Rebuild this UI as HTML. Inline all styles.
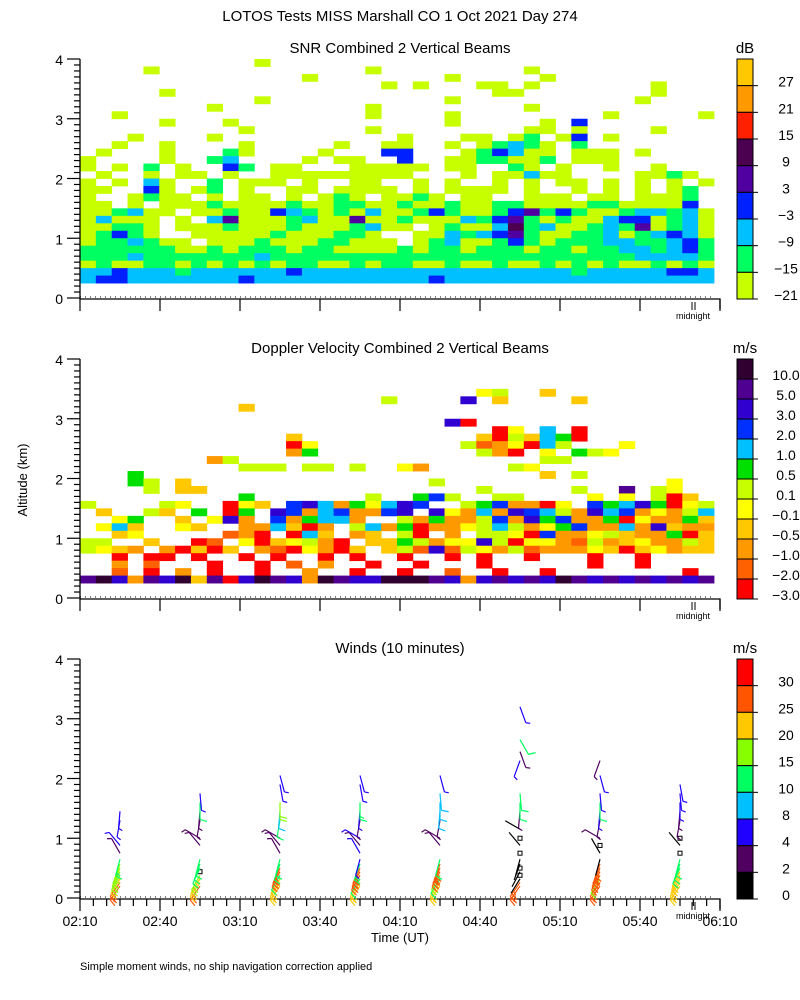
<!DOCTYPE html>
<html><head><meta charset="utf-8"><style>
body{margin:0;background:#fff}
svg{display:block;font-family:"Liberation Sans",sans-serif}
</style></head><body>
<svg id="svg" width="800" height="1000" viewBox="0 0 800 1000" xmlns="http://www.w3.org/2000/svg">
<rect width="800" height="1000" fill="#fff"/>
<text x="400" y="21" text-anchor="middle" font-size="15">LOTOS Tests MISS Marshall CO   1 Oct 2021 Day 274</text>
<text x="400" y="53" text-anchor="middle" font-size="15">SNR Combined 2 Vertical Beams</text>
<text x="745" y="53" text-anchor="middle" font-size="15">dB</text>
<text x="400" y="353" text-anchor="middle" font-size="15">Doppler Velocity Combined 2 Vertical Beams</text>
<text x="745" y="353" text-anchor="middle" font-size="15">m/s</text>
<text x="400" y="653" text-anchor="middle" font-size="15">Winds (10 minutes)</text>
<text x="745" y="653" text-anchor="middle" font-size="15">m/s</text>
<text x="0" y="0" transform="translate(27,480) rotate(-90)" text-anchor="middle" font-size="13">Altitude (km)</text>
<text x="400" y="942" text-anchor="middle" font-size="13">Time (UT)</text>
<text x="80" y="970" font-size="11">Simple moment winds, no ship navigation correction applied</text>
<g id="g1"></g>
<g id="g2"></g>
<g id="g3"></g>
</svg>
<script>
const NS="http://www.w3.org/2000/svg";
// ---- data ----
const snrColors=["#FFC800","#FF9900","#FF2000","#4B0050","#5000A0","#0020FF","#00C0FF","#00FF60","#C8FF00"];
const snrTicks=["27","21","15","9","3","\u22123","\u22129","\u221215","\u221221"];
const snrCodes={d:"#4B0050",p:"#5000A0",b:"#0020FF",c:"#00C0FF",g:"#00FF60",y:"#C8FF00"};
const snrRows=[
"...........y............................",
"....y.............y.........y............",
"..............y........y.....y..........",
"...................y.y...yy.y.......y...",
".....y....................yy........y...",
"...........y...........y...........y....",
"........y.........y.........y...........",
"..y...............y....y.........y.....y",
".....y...y.............y.....y.b........",
"..........y.......y.........yy.y....y...",
"...y....y...........y...yy.yg.yb.y......",
"..y..y....y.....y..yy..y.ygcgy.g........",
".y...y...gy....y...bb...ygbcyy.yyy.y....",
"y....y..gc....y.yy..b..yyggyyg.yyy......",
"y.y.g.y..bg.yy...yyyyy.yy..gy.y..y..y...",
".y..y.yy.y..yyyyyyyyy...y.yycyy....yygy.",
"y.y.cy..g.yyy.y..yy..y.y..y.y.yy.y.y.y.y",
"yy..by.yg.y..yy.yyyy.y.yyyy.y..y.y.y.yg.",
"y..ygyy.y.yy.y.ygy.yygy.yy..yyy.yy.yyyg.",
"yy.y.yyygyyyygyyggyygyygyyggyyyyggyyyyb.",
"yygcyy.yygyybcgygycyygbgyygbpgbgyygccgcy",
"ycyyy.y.cpyyygcyypyygyyycgbpgygyycbbygcy",
"yyggy.yyygyyygyyygcyy.ygyycdgcyygcgpygcy",
"ygbgy..yyyyygyyyggy..yycgcbpgyyggcygcbcy",
"yggcgyy.yyygyyyggyyy.ygcyygbgygggccggcbg",
"ggggggyygygggyggyyyygyggygggyggyggccgcbg",
"gggcgggggggcgggggggggggggggggggggggccccg",
"ygyyggygygygyggyygyggyygyygyygygygyygygy",
"ccbcccgccccccbcccccccccccccccccgcccccbbc",
"cbbcccccccbcccccccccccbccccccccccccccccc"];
const dopColors=["#300030","#500090","#3000D0","#0030FF","#00C0FF","#00E000","#C8FF00","#FFFF00","#FFC800","#FF9900","#FF6000","#FF0000"];
const dopTicks=["10.0","5.0","3.0","2.0","1.0","0.5","0.1","\u22120.1","\u22120.5","\u22121.0","\u22122.0","\u22123.0"];
const dopCodes={k:"#300030",p:"#500090",v:"#3000D0",b:"#0030FF",c:"#00C0FF",g:"#00E000",l:"#C8FF00",y:"#FFFF00",o:"#FFC800",O:"#FF9900",r:"#FF6000",R:"#FF0000"};
const dopRows=[
"","","","",
".........................yl..o",
"...................l....v.o....o",
"..........o",
"",
".......................vR",
"..........................Ry.c.R",
".............o...........oRlocgR",
".............Ry.........lrOyRcl...y",
".............Og..........lOR.y.gly",
"........Ol...................ll",
"..........lll.ll.l..yO.....ly",
"...g.........................o.l",
"...gl.o...............l..............y",
"....l.oo.................l.....l..p.ly",
"..........g.......l..gbl..ll....y.y.lRo",
"l....ly..Ryo.bvcOgycvb..lgbOORy.bgcvgRyl",
".o..lo.g.Rg.vbOcbOObv.vyOcOvbclOvcbOyOlc",
"..yg..o.yvO.bOgccO..lOgOOlbOvgbOOgRyOOgo",
".yco..yo..OOcoRO.lcOgROOylclOygbOOcOvoOO",
"..oy.....rOR.Rco.Oo.lR.O.llyRbOOyloOOgRo",
"ll..o..Rr.yRoylOR.ooglOyyvlRyyOrlOoyOOlo",
"lyoO.ORoRo.OrRyORo.olrvrlyOlrOOOyoRoyOoo",
"..R.RR.R..R.R..R.R..R..R.R..R...R..R....",
"..O.r...R..R.r.O..R..R...R......R..R....",
"..r.R.O.R..R..O..R..R..r..R..R........R.",
"pkvOpvkopRvkpvOkpvvkkkpvOvpvpvkpvpvpvpvp"];
const windColors=["#FF0000","#FF5500","#FFC800","#88FF00","#00FF60","#00C0FF","#2000FF","#500060","#000000"];
const windTicks=["30","25","20","15","10","8","4","2","0"];
const windBounds=[0,2,4,8,10,15,20,25,30];
const timeLabels=["02:10","02:40","03:10","03:40","04:10","04:40","05:10","05:40","06:10"];
const windTimes=[15,45,75,105,135,165,195,225]; // minutes after 02:10
const windHeights=[0.2,0.26,0.32,0.38,0.44,0.5,0.57,0.65,0.75,0.88,1.0,1.15,1.3,1.45,1.6,1.75,1.9,2.05,2.3,2.45,2.65,3.2];
const windDir=[215,215,212,210,208,205,200,195,330,320,300,300,190,185,180,175,170,165,200,160,150,160];
const windSpeed=[
[26,26,22,19,18,17,16,14,3,4,null,null,5,5,null,null,null,null,null,null,null,null],
[26,22,20,19,0.5,12,12,11,null,3,3,null,3,3,12,6,null,null,null,null,null,null],
[21,20,20,12,26,26,12,12,3,3,3,null,12,9,18,null,5,5,null,null,null,null],
[21,20,12,26,26,26,13,5,5,3,5,null,3,5,14,null,5,5,null,null,null,null],
[21,20,12,18,26,26,26,12,null,3,3,null,3,8,8,8,null,5,null,null,null,null],
[26,26,1.5,0.5,1.5,0.5,1.5,1.5,0.5,1.5,0.5,1.5,null,3,12,12,null,null,5,3,12,5],
[26,26,17,26,26,26,26,1.5,1.5,0.5,3,null,3,5,12,5,null,5,3,null,null,null],
[20,20,20,20,20,12,12,12,0.5,1.5,0.5,null,3,3,5,5,5,null,null,null,null,null]];
// ---- helpers ----
const X0=80,X1=720,DATAX1=714;
function xT(min){return X0+min*(X1-X0)/240;}
function mk(tag,attrs,parent){const e=document.createElementNS(NS,tag);for(const k in attrs)e.setAttribute(k,attrs[k]);parent.appendChild(e);return e;}
function axes(g,base,minorBottom){
  const yA=a=>base-a*59.75;
  const ax=mk('path',{d:`M${X0} ${yA(4)}V${base+1}H${X1}V${base+11}`,stroke:'#000','stroke-width':1.3,fill:'none'},g);
  
  
  for(let i=0;i<=40;i++){const y=yA(i/10);const L=i%10==0?13:6;
    mk('line',{x1:X0-L,x2:X0,y1:y,y2:y,stroke:'#000','stroke-width':1.2},g);}
  for(let k=0;k<=4;k++){const t=mk('text',{x:X0-17,y:yA(k)+6,'text-anchor':'end','font-size':14},g);t.textContent=k;
    
    }
  for(let m=0;m<=240;m+=(minorBottom?5:30)){const x=xT(m);const L=m%30==0?12:7;
    mk('line',{x1:x,x2:x,y1:base+1,y2:base+1+L,stroke:'#000','stroke-width':1.2},g);}
  const dl=mk('line',{x1:X0,x2:DATAX1,y1:base-1,y2:base-1,stroke:'#000','stroke-width':1,'stroke-dasharray':'1 4'},g);
  
  
  mk('path',{d:`M692 ${base+4}v8M695 ${base+4}v8`,stroke:'#000','stroke-width':1},g);
  const mt=mk('text',{x:693,y:base+21,'text-anchor':'middle','font-size':9},g);mt.textContent='midnight';
  
  
}
function colorbar(g,top,colors,ticks){
  const h=240/colors.length;
  colors.forEach((c,i)=>{const r=mk('rect',{x:737,y:top+i*h,width:16,height:h,fill:c,stroke:'#000','stroke-width':1},g);
    
    });
  ticks.forEach((t,i)=>{const y=top+(i+1)*h;
    mk('line',{x1:753,x2:758,y1:y,y2:y,stroke:'#000'},g);
    const tx=mk('text',{x:786,y:y+1,'text-anchor':'middle','font-size':14},g);tx.textContent=t;
    
    });
}
function heat(g,base,rows,codes,topAlt,step){
  const cw=(DATAX1-X0)/40;
  rows.forEach((row,ri)=>{const a1=topAlt-ri*step;const y=base-a1*59.75;const h=step*59.75;
    for(let ci=0;ci<40;ci++){const ch=row[ci]||'.';if(ch==='.')continue;
      const r=mk('rect',{x:X0+ci*cw,y:y,width:cw+0.4,height:h+0.4,fill:codes[ch]},g);
      
      }
  });
}
// panel 1
const g1=document.getElementById('g1');
heat(g1,298,snrRows,snrCodes,4.0,0.125);
axes(g1,298,false);colorbar(g1,59,snrColors,snrTicks);
// panel 2
const g2=document.getElementById('g2');
heat(g2,598,dopRows,dopCodes,4.0,0.125);
axes(g2,598,false);colorbar(g2,359,dopColors,dopTicks);
// panel 3
const g3=document.getElementById('g3');
axes(g3,898,true);colorbar(g3,659,windColors,windTicks);
timeLabels.forEach((t,i)=>{const tx=mk('text',{x:xT(i*30),y:926,'text-anchor':'middle','font-size':14},g3);tx.textContent=t;
  
  });
function wColor(s){let idx=8;for(let i=0;i<windBounds.length;i++)if(s>=windBounds[i])idx=8-i;return windColors[idx];}
windTimes.forEach((tm,p)=>{
  const x=xT(tm);
  windHeights.forEach((h,hi)=>{
    const s=windSpeed[p][hi];if(s===null)return;
    const y=898-h*59.75;const col=wColor(s);
    if(s<1){const q=mk('rect',{x:x-2,y:y-2,width:4,height:4,fill:'none',stroke:'#000','stroke-width':1},g3);
      
      return;}
    const d=windDir[hi]*Math.PI/180;const L=17;
    const ux=Math.sin(d),uy=-Math.cos(d);
    const ex=x+ux*L,ey=y+uy*L;
    let path=`M${x} ${y}L${ex} ${ey}`;
    let n=Math.round(s/5);let pos=0;
    const px=uy,py=-ux;
    while(n>0){const len=n>=2?7:4;const bx=ex-ux*pos,by=ey-uy*pos;
      path+=`M${bx} ${by}l${px*len+ux*2} ${py*len+uy*2}`;n-=2;pos+=3;}
    const b=mk('path',{d:path,stroke:col,'stroke-width':1.2,fill:'none'},g3);
    
    
  });
});
</script>
</body></html>
